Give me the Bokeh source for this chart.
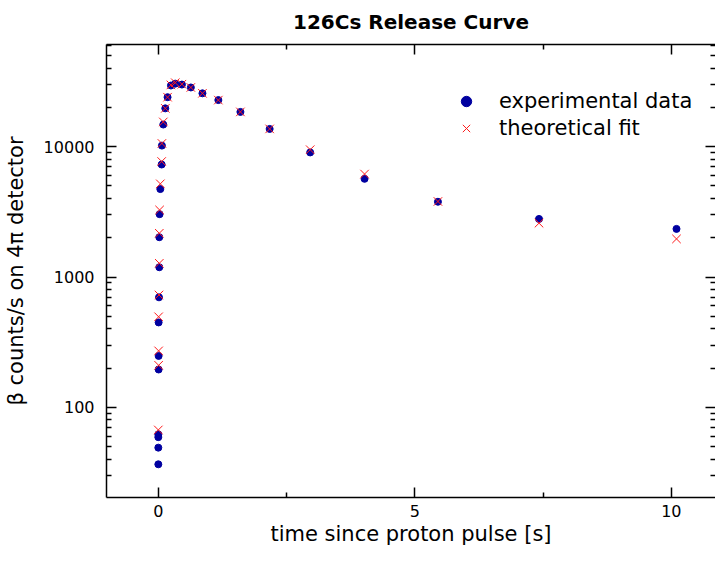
from bokeh.plotting import figure
from bokeh.models import (Range1d, LogAxis, LinearAxis, FixedTicker, Legend, LegendItem,
                          ColumnDataSource, BasicTickFormatter)
from bokeh.embed import file_html
from bokeh.resources import INLINE

title_text = "126Cs Release Curve"
x_label = "time since proton pulse [s]"
y_label = "\u03b2 counts/s on 4\u03c0 detector"

# experimental data (time [s], counts/s)
exp_time = [0.0, 0.0, 0.0, 0.0, 0.006, 0.006, 0.006, 0.013, 0.019, 0.019, 0.025, 0.039,
            0.065, 0.07, 0.097, 0.136, 0.18, 0.246, 0.33, 0.46, 0.634, 0.86, 1.17, 1.6,
            2.17, 2.96, 4.02, 5.45, 7.42, 10.1]
exp_counts = [36.5, 49, 59, 62, 195, 248, 448, 698, 1188, 2020, 3036, 4730,
              7300, 10200, 14800, 19700, 24000, 29500, 30500, 30000, 28500, 25700, 22800, 18500,
              13700, 9040, 5670, 3780, 2790, 2340]

# theoretical fit
fit_time = [0.0, 0.006, 0.006, 0.006, 0.013, 0.019, 0.019, 0.025, 0.039, 0.065, 0.07, 0.097,
            0.136, 0.18, 0.246, 0.33, 0.46, 0.634, 0.86, 1.17, 1.6, 2.17, 2.96, 4.02, 5.45,
            7.42, 10.1]
fit_counts = [67, 210, 271, 495, 728, 1274, 2167, 3270, 5190, 7700, 10600, 15500,
              19700, 24000, 29800, 31000, 30200, 28500, 25700, 22800, 18500, 13700, 9490, 6170, 3800,
              2590, 1960]

x_major_ticks = [0, 5, 10]
x_minor_ticks = [2.5, 7.5]
y_major_ticks = [100, 1000, 10000]
y_minor_ticks = [m * d for d in (10, 100, 1000, 10000) for m in range(2, 10) if m * d <= 60000]
y_tick_labels = {100: "100", 1000: "1000", 10000: "10000"}

FONT = "DejaVu Sans"

p = figure(width=715, height=548, x_range=Range1d(-1.01, 10.86), y_range=Range1d(20.3, 60900),
           y_axis_type="log", output_backend="svg", toolbar_location=None,
           min_border_left=99, min_border_right=0, min_border_bottom=51, min_border_top=37)
p.outline_line_color = None
p.grid.visible = False
p.background_fill_color = "white"

p.title.text = title_text
p.title.text_font = FONT
p.title.text_font_size = "20px"
p.title.text_font_style = "bold"
p.title.text_color = "black"
p.title.align = "center"
p.title.standoff = 18
p.title.vertical_align = "top"

xt = FixedTicker(ticks=x_major_ticks, minor_ticks=x_minor_ticks)
yt = FixedTicker(ticks=y_major_ticks, minor_ticks=y_minor_ticks)


def style_axis(ax, labels=True):
    ax.axis_line_width = 1.5
    ax.axis_line_color = "black"
    ax.major_tick_line_width = 1.5
    ax.minor_tick_line_width = 1.5
    ax.major_tick_line_color = "black"
    ax.minor_tick_line_color = "black"
    ax.major_tick_in = 10
    ax.major_tick_out = 0
    ax.minor_tick_in = 5
    ax.minor_tick_out = 0
    if labels:
        ax.major_label_text_font = FONT
        ax.major_label_text_font_size = "16px"
        ax.major_label_text_color = "black"
        ax.axis_label_text_font = FONT
        ax.axis_label_text_font_size = "21px"
        ax.axis_label_text_font_style = "normal"
        ax.axis_label_text_color = "black"
    else:
        ax.major_label_text_font_size = "1px"
        ax.major_label_text_color = None
        ax.major_label_standoff = 0


xa = p.xaxis[0]
xa.ticker = xt
xa.axis_label = x_label
style_axis(xa)
xa.major_label_standoff = 7
xa.axis_label_standoff = 2

ya = p.yaxis[0]
ya.ticker = yt
ya.formatter = BasicTickFormatter(use_scientific=False)
ya.major_label_overrides = y_tick_labels
ya.axis_label = y_label
style_axis(ya)
ya.major_label_standoff = 12
ya.axis_label_standoff = 13

top = LinearAxis(ticker=xt)
style_axis(top, labels=False)
top.major_label_overrides = {t: "" for t in x_major_ticks}
p.add_layout(top, "above")

right = LogAxis(ticker=yt)
style_axis(right, labels=False)
right.major_label_overrides = {t: "" for t in y_major_ticks}
right.axis_line_color = None
p.add_layout(right, "right")

src_exp = ColumnDataSource(dict(t=exp_time, c=exp_counts))
src_fit = ColumnDataSource(dict(t=fit_time, c=fit_counts))

r_exp = p.scatter("t", "c", source=src_exp, marker="circle", size=7,
                  fill_color="#0000a0", line_color="#0000a0")
r_fit = p.scatter("t", "c", source=src_fit, marker="x", size=12,
                  line_color="#ff1a1a", line_width=1)

legend = Legend(items=[LegendItem(label="experimental data", renderers=[r_exp]),
                       LegendItem(label="theoretical fit", renderers=[r_fit])],
                location=(345, 356))
legend.border_line_color = None
legend.background_fill_alpha = 0
legend.label_text_font = FONT
legend.label_text_font_size = "21px"
legend.label_text_color = "black"
legend.glyph_width = 30
legend.glyph_height = 26
legend.label_standoff = 18
legend.spacing = 1
legend.padding = 0
legend.margin = 0
p.add_layout(legend)

open("out.html", "w").write(file_html(p, INLINE))
